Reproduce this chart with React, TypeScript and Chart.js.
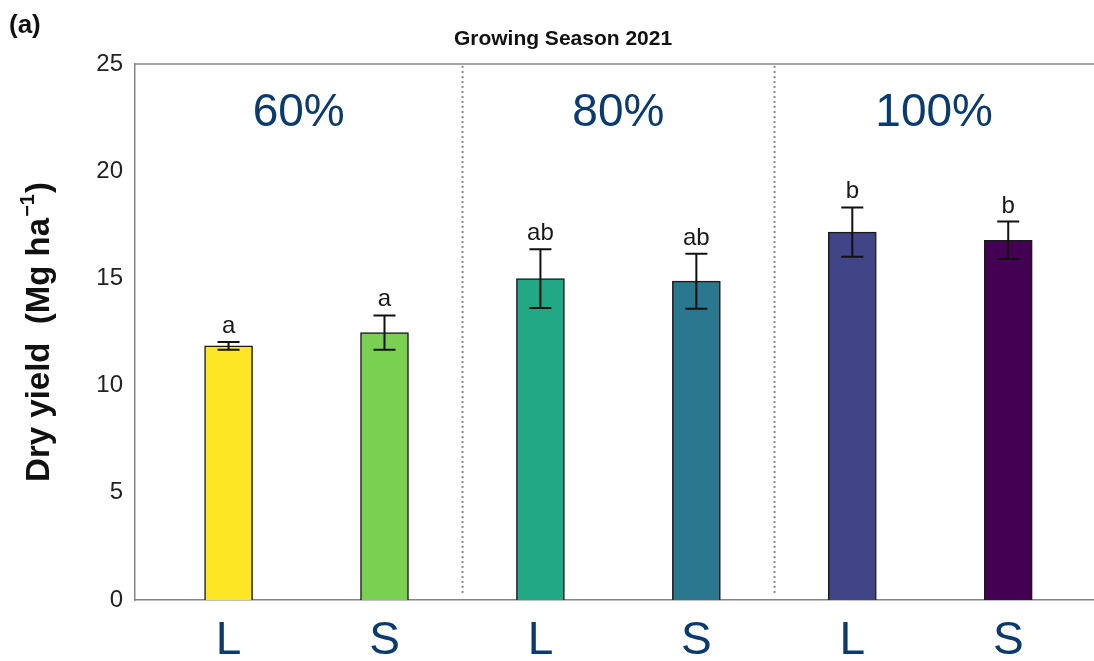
import React, { useEffect, useRef } from "react";
import { Chart, registerables } from "chart.js";

Chart.register(...registerables);

// ---- data ----
const categories = ["L", "S", "L", "S", "L", "S"];
const positions = [1, 2, 3, 4, 5, 6];
const yieldMeans = [11.85, 12.47, 14.99, 14.87, 17.16, 16.78];
const yieldErrors = [0.18, 0.8, 1.37, 1.28, 1.15, 0.87];
const letters = ["a", "a", "ab", "ab", "b", "b"];
const barColors = ["#fde725", "#7ad151", "#22a884", "#2a788e", "#414487", "#440154"];
const groupLabels = ["60%", "80%", "100%"];
const groupBounds = [2.5, 4.5];
const yTicks = [0, 5, 10, 15, 20, 25];
const titleText = "Growing Season 2021";
const panelLabel = "(a)";

const FONT = "'Liberation Sans', Arial, Helvetica, sans-serif";
const BLUE = "#0b3b6e";
const AXIS = "#858585";

const overlayPlugin = {
  id: "overlay",
  afterDatasetsDraw(chart: any) {
    const { ctx, chartArea, scales } = chart;
    const xs = scales.x;
    const ys = scales.y;
    ctx.save();

    // top border
    ctx.strokeStyle = AXIS;
    ctx.lineWidth = 1.5;
    ctx.beginPath();
    ctx.moveTo(chartArea.left, chartArea.top);
    ctx.lineTo(chartArea.right, chartArea.top);
    ctx.stroke();

    // dotted separators
    ctx.setLineDash([2, 3]);
    ctx.lineWidth = 2;
    ctx.strokeStyle = "#8c8c8c";
    groupBounds.forEach((b) => {
      const px = Math.round(xs.getPixelForValue(b)) + 0.5;
      ctx.beginPath();
      ctx.moveTo(px, chartArea.top + 2);
      ctx.lineTo(px, chartArea.bottom - 6);
      ctx.stroke();
    });
    ctx.setLineDash([]);

    // error bars + letters
    ctx.strokeStyle = "#111";
    ctx.lineWidth = 2;
    positions.forEach((p, i) => {
      const px = xs.getPixelForValue(p);
      const top = ys.getPixelForValue(yieldMeans[i] + yieldErrors[i]);
      const bot = ys.getPixelForValue(yieldMeans[i] - yieldErrors[i]);
      ctx.beginPath();
      ctx.moveTo(px, top);
      ctx.lineTo(px, bot);
      ctx.moveTo(px - 11, top);
      ctx.lineTo(px + 11, top);
      ctx.moveTo(px - 11, bot);
      ctx.lineTo(px + 11, bot);
      ctx.stroke();
      ctx.fillStyle = "#1a1a1a";
      ctx.font = `24px ${FONT}`;
      ctx.textAlign = "center";
      ctx.textBaseline = "alphabetic";
      ctx.fillText(letters[i], px, top - 9);
    });

    // group labels
    const edges = [xs.min, ...groupBounds, xs.max];
    ctx.fillStyle = BLUE;
    ctx.font = `46px ${FONT}`;
    ctx.textAlign = "center";
    ctx.textBaseline = "alphabetic";
    groupLabels.forEach((g, i) => {
      const cx = (xs.getPixelForValue(edges[i]) + xs.getPixelForValue(edges[i + 1])) / 2;
      ctx.fillText(g, cx, 126);
    });

    // title
    ctx.fillStyle = "#111";
    ctx.font = `bold 21px ${FONT}`;
    ctx.textAlign = "center";
    ctx.textBaseline = "middle";
    ctx.fillText(titleText, 563, 39);

    // panel label
    ctx.font = `bold 26px ${FONT}`;
    ctx.textAlign = "left";
    ctx.fillText(panelLabel, 9, 26);

    // y-axis title
    ctx.translate(38, (chartArea.top + chartArea.bottom) / 2);
    ctx.rotate(-Math.PI / 2);
    ctx.textBaseline = "middle";
    ctx.textAlign = "left";
    const main = "Dry yield  (Mg ha";
    const sup = "\u22121";
    const close = ")";
    ctx.font = `bold 33px ${FONT}`;
    const wMain = ctx.measureText(main).width;
    const wClose = ctx.measureText(close).width;
    ctx.font = `bold 20px ${FONT}`;
    const wSup = ctx.measureText(sup).width;
    const total = wMain + wSup + wClose + 2;
    let x0 = -total / 2;
    ctx.font = `bold 33px ${FONT}`;
    ctx.fillText(main, x0, 2);
    x0 += wMain + 1;
    ctx.font = `bold 20px ${FONT}`;
    ctx.fillText(sup, x0, -10);
    x0 += wSup + 1;
    ctx.font = `bold 33px ${FONT}`;
    ctx.fillText(close, x0, 2);

    ctx.restore();
  },
};

export default function App() {
  const canvasRef = useRef<HTMLCanvasElement | null>(null);

  useEffect(() => {
    if (!canvasRef.current) return;
    const chart = new Chart(canvasRef.current, {
      type: "bar",
      data: {
        datasets: [
          {
            data: positions.map((x, i) => ({ x, y: yieldMeans[i] })),
            backgroundColor: barColors,
            borderColor: "#1a1a1a",
            borderWidth: 1.5,
            barThickness: 48,
          } as any,
        ],
      },
      options: {
        animation: false,
        responsive: false,
        devicePixelRatio: 1,
        layout: { padding: { top: 64, left: 0, right: 0, bottom: 0 } },
        plugins: {
          legend: { display: false },
          tooltip: { enabled: false },
          title: { display: false },
        },
        scales: {
          x: {
            type: "linear",
            offset: false,
            min: 0.4,
            max: 6.55,
            grid: { display: false, drawTicks: false, offset: false },
            border: { display: true, color: AXIS, width: 1.5 },
            afterBuildTicks: (s: any) => {
              s.ticks = positions.map((v) => ({ value: v }));
            },
            afterFit: (s: any) => {
              s.height = 61;
            },
            ticks: {
              autoSkip: false,
              maxRotation: 0,
              padding: 14,
              color: BLUE,
              font: { family: FONT, size: 46 },
              callback: (_v: any, i: number) => categories[i],
            },
          },
          y: {
            min: 0,
            max: 25,
            afterBuildTicks: (s: any) => {
              s.ticks = yTicks.map((v) => ({ value: v }));
            },
            afterFit: (s: any) => {
              s.width = 135;
            },
            grid: { display: false, drawTicks: false },
            border: { display: true, color: AXIS, width: 1.5 },
            ticks: {
              padding: 12,
              color: "#222",
              font: { family: FONT, size: 24 },
            },
          },
        },
      } as any,
      plugins: [overlayPlugin],
    });
    return () => chart.destroy();
  }, []);

  return (
    <div style={{ position: "absolute", left: 0, top: 0, width: 1094, height: 661, background: "#fff" }}>
      <canvas ref={canvasRef} width={1094} height={661} />
    </div>
  );
}
